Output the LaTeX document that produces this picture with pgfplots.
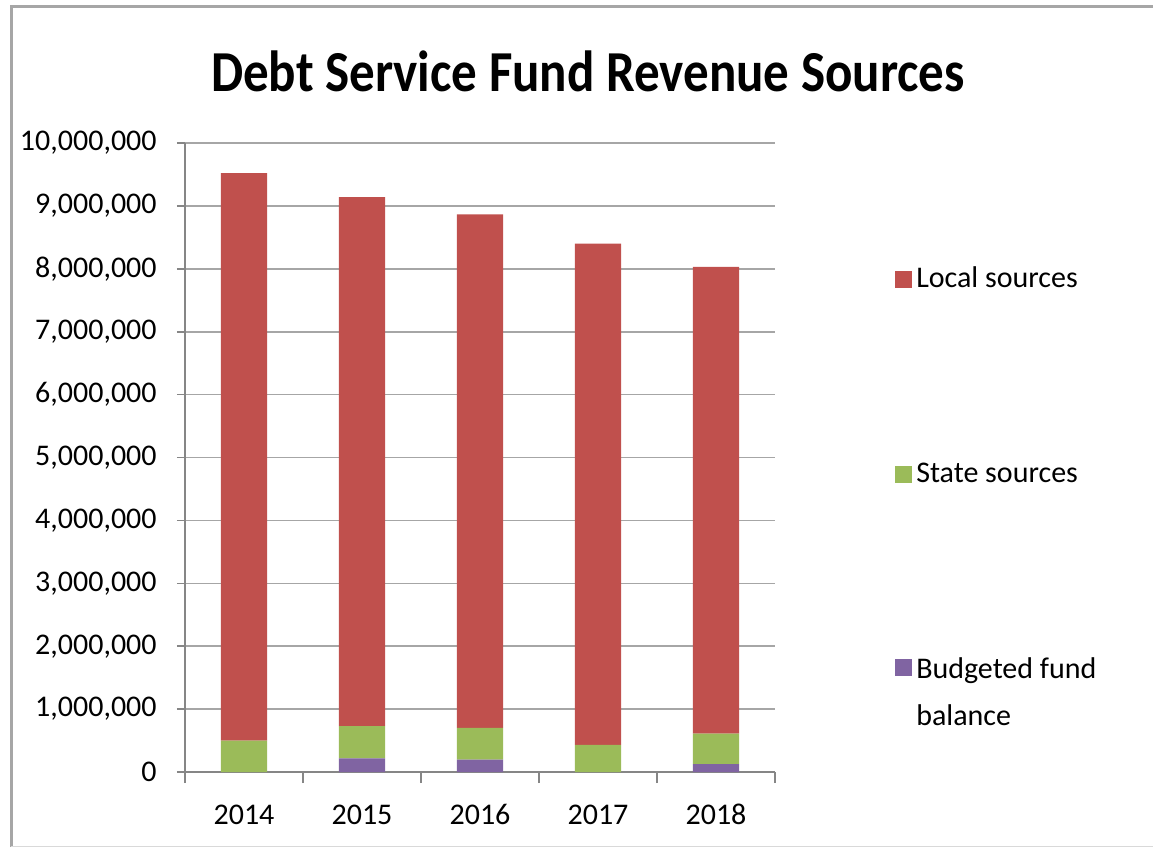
\documentclass[border=0pt]{standalone}
\usepackage{pgfplots}
\pgfplotsset{compat=1.18}
\usepackage{fontspec}
\setmainfont{Carlito}
\definecolor{localred}{HTML}{C0504D}
\definecolor{stategreen}{HTML}{9BBB59}
\definecolor{fundpurple}{HTML}{8064A2}
\definecolor{gridgray}{HTML}{A6A6A6}
\definecolor{axisgray}{HTML}{868686}
\begin{document}
\begin{tikzpicture}[x=1pt,y=1pt]
  \path[use as bounding box] (0,0) rectangle (576.5,424);
  \draw[gray!70, line width=1.5pt] (5.5,0.5) -- (5.5,420.5) -- (580,420.5);
  \draw[gray!30, line width=0.8pt] (5.5,0.8) -- (580,0.8);
  \node[anchor=base, inner sep=0pt] at (294,378)
    {\scalebox{0.88}[1]{\fontsize{29}{34}\selectfont\bfseries Debt Service Fund Revenue Sources}};
  \begin{axis}[
    at={(92.5pt,38pt)}, anchor=south west,
    scale only axis,
    width=295pt, height=314.5pt,
    ybar stacked,
    bar width=23pt,
    xmin=-0.5, xmax=4.5,
    ymin=0, ymax=10000000,
    ytick={0,1000000,...,10000000},
    scaled y ticks=false,
    xtick={0,1,2,3,4},
    xticklabels={2014,2015,2016,2017,2018},
    minor xtick={-0.5,0.5,1.5,2.5,3.5,4.5},
    major x tick style={draw=none},
    minor x tick style={draw=axisgray, line width=0.8pt},
    y tick style={draw=axisgray, line width=0.8pt},
    major tick length=4pt,
    minor tick length=5.5pt,
    tick align=outside,
    axis x line*=bottom,
    axis y line*=left,
    axis line style={draw=axisgray, line width=0.8pt, -},
    ymajorgrids,
    grid style={draw=gridgray, line width=0.8pt},
    tick label style={font=\fontsize{15}{18}\selectfont, black},
    /pgf/number format/.cd, fixed, 1000 sep={,}, assume math mode=true,
    /pgfplots/.cd,
    xticklabel style={anchor=north, inner sep=0pt, text height=9.5pt, text depth=0pt, yshift=-12.5pt},
    yticklabel style={anchor=east, inner sep=0pt, xshift=-10pt},
    reverse legend,
    legend cell align=left,
    legend image code/.code={\fill[#1] (0pt,-4.25pt) rectangle (8.5pt,4.25pt);},
    legend style={at={(1.193,0.816)}, anchor=north west, draw=none, fill=none,
      row sep=82pt,
      nodes={align=left, font=\fontsize{15}{23.5}\selectfont}},
  ]
  \addplot[fill=fundpurple, draw=none,
    legend image code/.code={\fill[fundpurple] (0pt,8.25pt) rectangle (8.5pt,16.75pt);}]
    coordinates {
    (0,0) (1,215000) (2,195000) (3,0) (4,125000)
  };
  \addlegendentry{Budgeted fund\\balance}
  \addplot[fill=stategreen, draw=none] coordinates {
    (0,500000) (1,515000) (2,505000) (3,430000) (4,485000)
  };
  \addlegendentry{State sources}
  \addplot[fill=localred, draw=none] coordinates {
    (0,9020000) (1,8410000) (2,8165000) (3,7970000) (4,7420000)
  };
  \addlegendentry{Local sources}
  \end{axis}
\end{tikzpicture}
\end{document}
